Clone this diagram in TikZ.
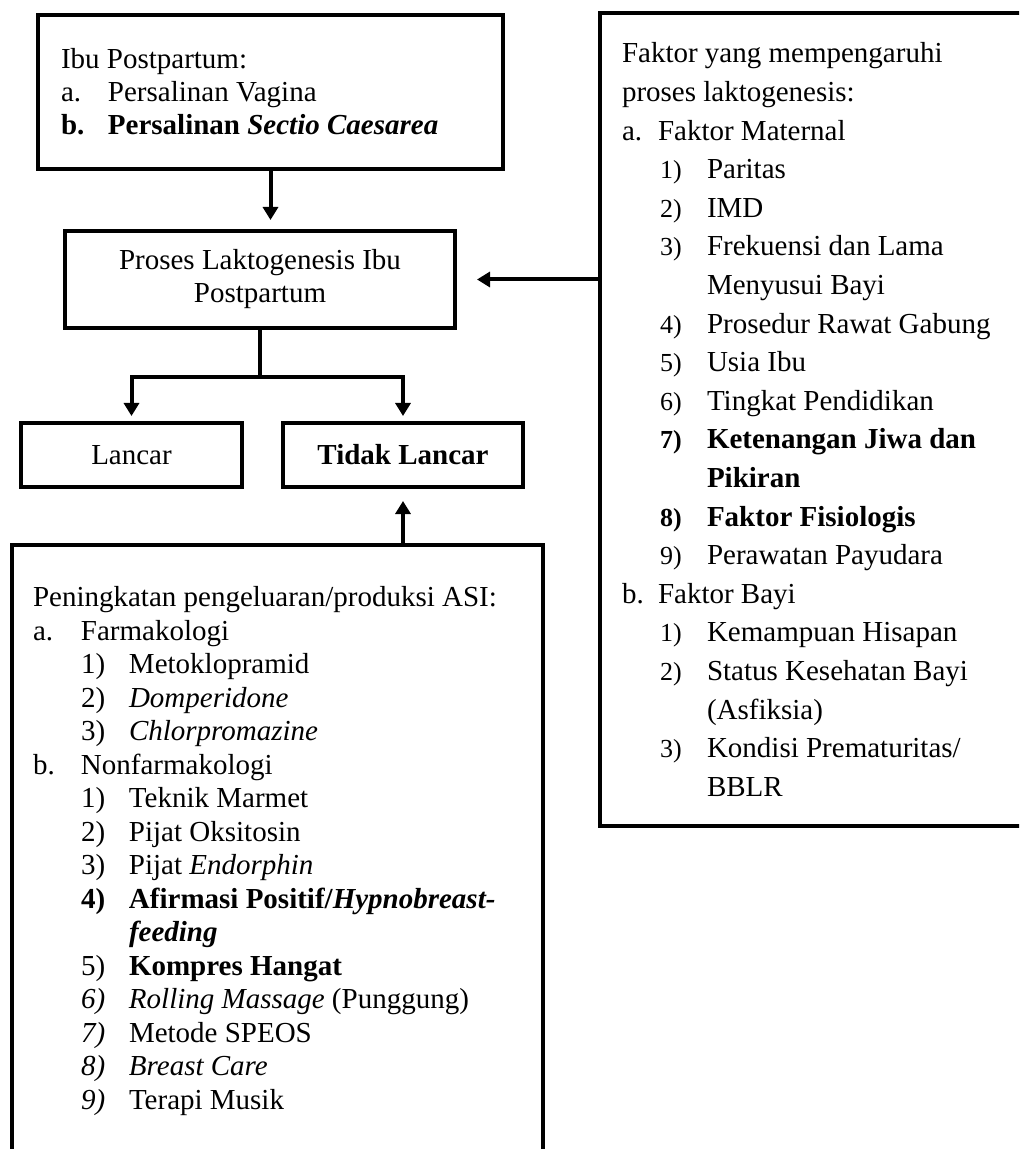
\documentclass[tikz,border=0pt]{standalone}
\usepackage{fontspec}
\setmainfont{Liberation Serif}
\usetikzlibrary{arrows.meta,positioning}

\newcommand{\lbl}[2]{\makebox[#1][l]{#2}}
\newcommand{\numsm}[1]{{\fontsize{13}{13}\selectfont #1}}
\newcommand{\subf}[1]{\hspace*{19pt}\lbl{23.5pt}{\numsm{#1}}}
\newcommand{\suba}[1]{\hspace*{24pt}\lbl{24pt}{#1}}

\begin{document}
\begin{tikzpicture}[shorten >=4.5pt,node distance=2cm,on grid,
    >={Triangle[width=7.5pt,length=6.5pt]},line width=2pt]
  \tikzstyle{box}=[rectangle,draw=black,line width=2pt,inner sep=0pt,
                   font=\fontsize{14.5}{16.5}\selectfont]
  \tikzstyle{list}=[box,align=flush left]

  \useasboundingbox (0,0) rectangle (509.5pt,-574.5pt);
  \clip (0,0) rectangle (509.5pt,-574.5pt);

  \node[list,minimum width=232.5pt,minimum height=77pt,text width=209.5pt] (ibu) at (135.25pt,-46pt)
    {Ibu Postpartum:\\
     \lbl{23.5pt}{a.}Persalinan Vagina\\
     \textbf{\lbl{23.5pt}{b.}Persalinan \textit{Sectio Caesarea}}};
  \node[box,align=center,minimum width=195pt,minimum height=48.5pt] (proses)
    [below=93.75pt of ibu,xshift=-5.25pt] {Proses Laktogenesis Ibu\\Postpartum};
  \node[box,minimum width=110.5pt,minimum height=32pt] (lancar)
    [below left=87.75pt and 64.25pt of proses] {Lancar};
  \node[box,minimum width=120pt,minimum height=32pt,font=\fontsize{14.5}{16.5}\selectfont\bfseries] (tidak)
    [below right=87.75pt and 71.5pt of proses] {Tidak Lancar};

  \node[list,minimum width=265.5pt,minimum height=306pt,text width=244.5pt,
        font=\fontsize{14.5}{16.75}\selectfont] (asi)
    [below left=198pt and 62.75pt of tidak]
    {Peningkatan pengeluaran/produksi ASI:\\
     \lbl{24pt}{a.}Farmakologi\\
     \suba{1)}Metoklopramid\\
     \suba{2)}\textit{Domperidone}\\
     \suba{3)}\textit{Chlorpromazine}\\
     \lbl{24pt}{b.}Nonfarmakologi\\
     \suba{1)}Teknik Marmet\\
     \suba{2)}Pijat Oksitosin\\
     \suba{3)}Pijat \textit{Endorphin}\\
     \textbf{\suba{4)}Afirmasi Positif/\textit{Hypnobreast-}}\\
     \hspace*{48pt}\textbf{\textit{feeding}}\\
     \suba{5)}\textbf{Kompres Hangat}\\
     \suba{\textit{6)}}\textit{Rolling Massage} (Punggung)\\
     \suba{\textit{7)}}Metode SPEOS\\
     \suba{\textit{8)}}\textit{Breast Care}\\
     \suba{\textit{9)}}Terapi Musik};

  \node[list,minimum width=220pt,minimum height=406.5pt,text width=198pt,
        font=\fontsize{14.5}{19.3}\selectfont] (faktor)
    [below right=70pt and 280pt of proses]
    {Faktor yang mempengaruhi\\
     proses laktogenesis:\\
     \lbl{18pt}{a.}Faktor Maternal\\
     \subf{1)}Paritas\\
     \subf{2)}IMD\\
     \subf{3)}Frekuensi dan Lama\\
     \hspace*{42.5pt}Menyusui Bayi\\
     \subf{4)}Prosedur Rawat Gabung\\
     \subf{5)}Usia Ibu\\
     \subf{6)}Tingkat Pendidikan\\
     \textbf{\subf{7)}Ketenangan Jiwa dan}\\
     \textbf{\hspace*{42.5pt}Pikiran}\\
     \textbf{\subf{8)}Faktor Fisiologis}\\
     \subf{9)}Perawatan Payudara\\
     \lbl{18pt}{b.}Faktor Bayi\\
     \subf{1)}Kemampuan Hisapan\\
     \subf{2)}Status Kesehatan Bayi\\
     \hspace*{42.5pt}(Asfiksia)\\
     \subf{3)}Kondisi Prematuritas/\\
     \hspace*{42.5pt}BBLR};

  \coordinate[below=23.5pt of proses.south] (split);

  \draw[->] (ibu.south) -- (ibu.south |- proses.north);
  \draw[shorten >=0pt] (proses.south) -- (split);
  \draw[->,shorten >=2.5pt] (split) -| (lancar);
  \draw[->,shorten >=2.5pt] (split) -| (tidak);
  \draw[->,shorten >=6pt] (asi.north -| tidak) -- (tidak);
  \draw[->,shorten >=10pt] (faktor.west |- proses) -- (proses);
\end{tikzpicture}
\end{document}
